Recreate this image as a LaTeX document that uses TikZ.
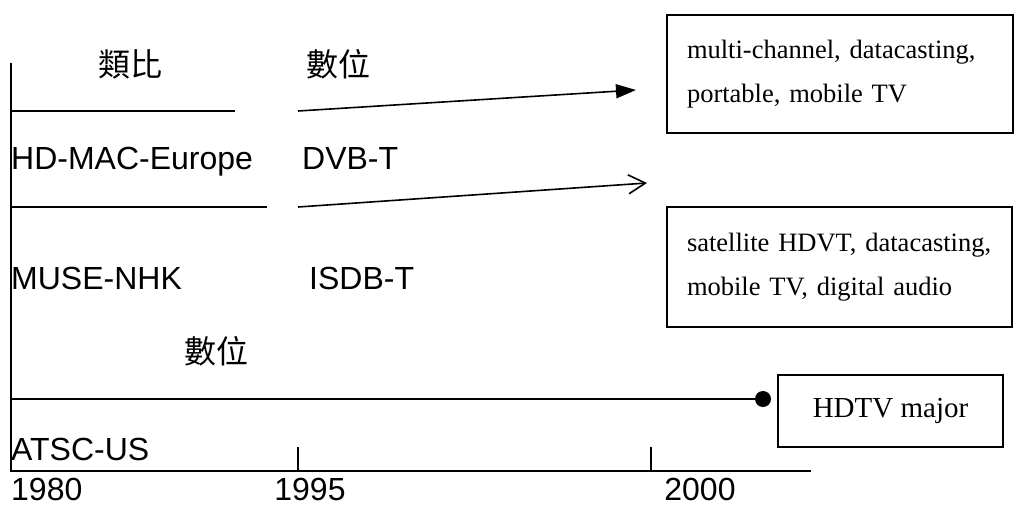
\documentclass[tikz,border=0pt]{standalone}
\usepackage{fontspec}
\setmainfont{Liberation Serif}
\newfontfamily\sansf{Liberation Sans}
\newfontfamily\cjk{Noto Sans CJK TC}
\usetikzlibrary{arrows.meta}
\begin{document}
\begin{tikzpicture}[x=1pt,y=-1pt,
  rule/.style={line width=1.6pt},
  lbl/.style={font=\sansf\fontsize{32}{32}\selectfont, inner sep=0pt, anchor=base west},
  yr/.style={font=\sansf\fontsize{32}{32}\selectfont, inner sep=0pt, anchor=base},
  era/.style={font=\cjk\fontsize{32}{32}\selectfont, inner sep=0pt},
  note/.style={draw, line width=1.6pt, font=\fontsize{26.5}{44}\selectfont,
    align=left, inner xsep=20pt, inner ysep=0pt},
]
\useasboundingbox (0,0) rectangle (1023,508);

% timeline frame
\coordinate (top) at (11,63);
\coordinate (origin) at (11,471);
\coordinate (axisend) at (811,471);
\draw[rule] (top) -- (origin) -- (axisend);

% year ticks
\coordinate (t95) at (298,471);
\coordinate (t00) at (651,471);
\draw[rule] (t95) -- ++(0,-24);
\draw[rule] (t00) -- ++(0,-24);
\node[lbl] (y80) at (11,500) {1980};
\node[yr]  (y95) at (310,500) {1995};
\node[yr]  (y00) at (700,500) {2000};

% era headings
\node[era] (analog) at (130,64) {類比};
\node[era] (digital1) at (338,64) {數位};
\node[era] (digital2) at (216,351) {數位};

% system labels
\node[lbl] (hdmac) at (11,170) {HD-MAC-Europe};
\node[lbl] (dvbt) at (302,170) {DVB-T};
\node[lbl] (muse) at (11,289) {MUSE-NHK};
\node[lbl] (isdbt) at (309,289) {ISDB-T};
\node[lbl] (atsc) at (11,460) {ATSC-US};

% separators and transitions
\coordinate (s1a) at (11,111);  \coordinate (s1b) at (235,111);
\coordinate (a1a) at (298,111); \coordinate (a1b) at (636,90);
\coordinate (s2a) at (11,207);  \coordinate (s2b) at (267,207);
\coordinate (a2a) at (298,207); \coordinate (a2b) at (647,183);
\coordinate (s3a) at (11,399);  \coordinate (dot) at (763,399);
\draw[rule] (s1a) -- (s1b);
\draw[rule, -{Triangle[length=20pt,width=14pt]}] (a1a) -- (a1b);
\draw[rule] (s2a) -- (s2b);
\draw[rule, -{Straight Barb[length=17pt,width=19pt]}] (a2a) -- (a2b);
\draw[rule] (s3a) -- (dot);
\fill (dot) circle (8);

% outcome boxes
\node[note, text width=306pt, minimum height=118pt] (b1) at (840,74)
  {multi-channel, datacasting,\\portable, mobile TV};
\node[note, text width=305pt, minimum height=120pt] (b2) at (839.5,267)
  {satellite HDVT, datacasting,\\mobile TV, digital audio};
\node[note, align=center, font=\fontsize{29}{29}\selectfont,
  minimum width=225pt, minimum height=72pt] (b3) at (890.5,411)
  {HDTV major};
\end{tikzpicture}
\end{document}
